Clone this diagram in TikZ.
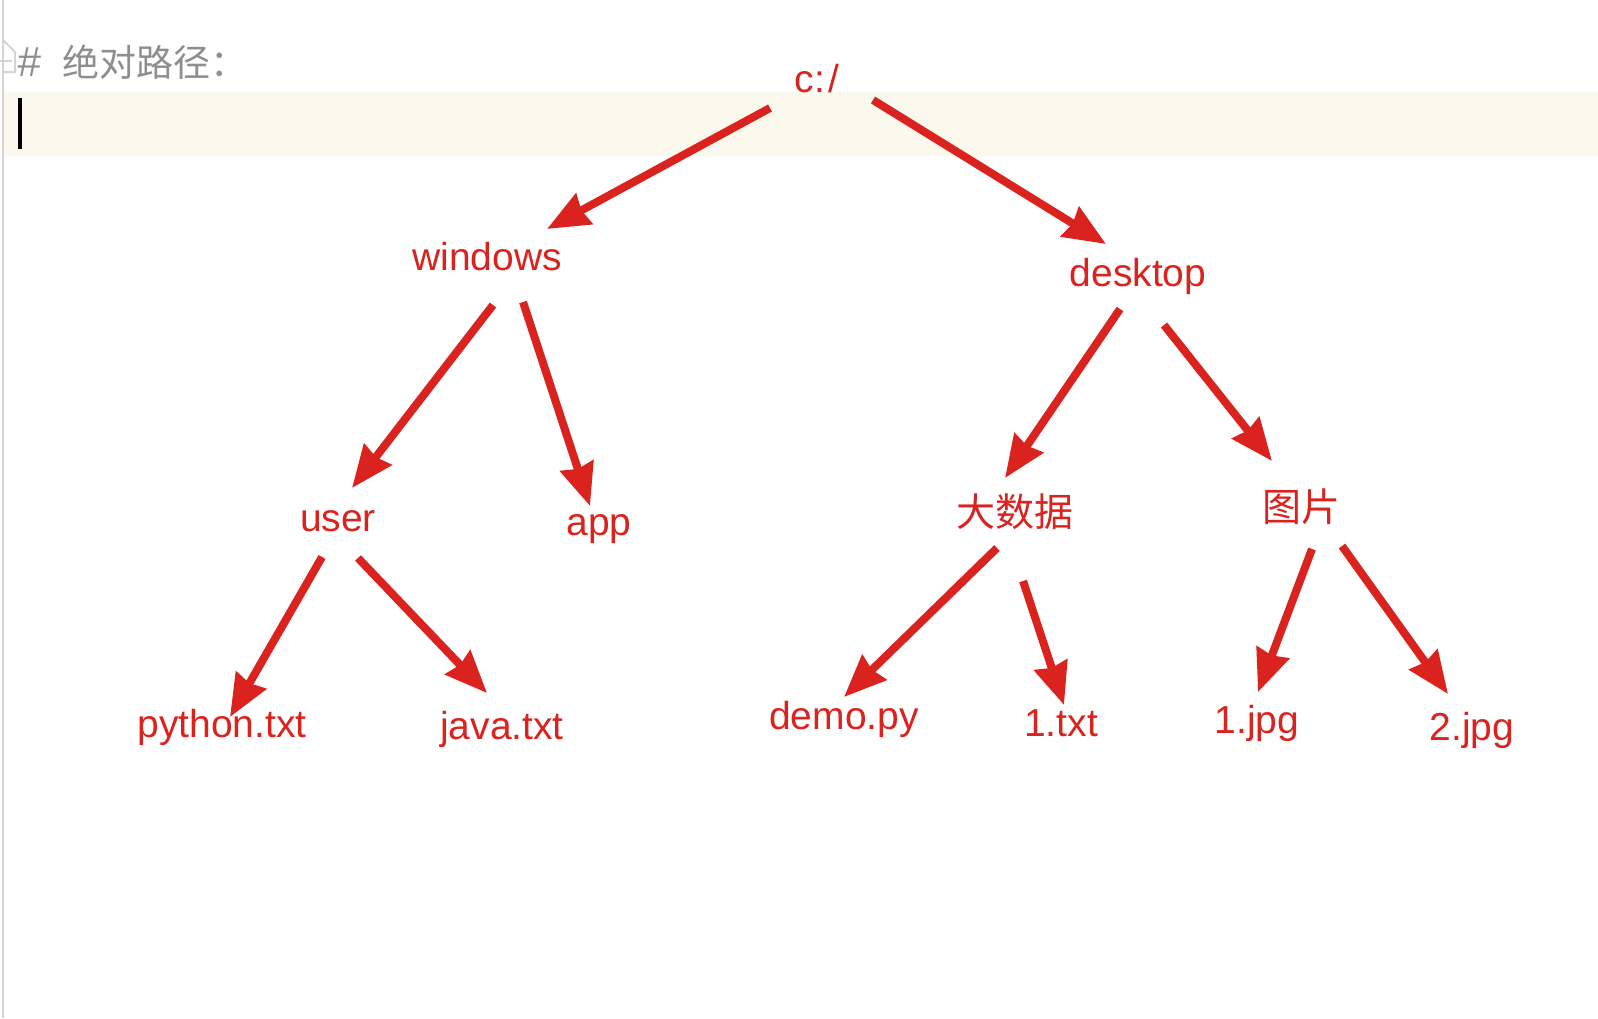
\documentclass[tikz,border=0pt]{standalone}
\usepackage{fontspec}
\setmainfont{Liberation Sans}
\newfontfamily\cjk{Noto Sans CJK SC}
\usetikzlibrary{arrows.meta}
\definecolor{arrred}{RGB}{218,35,30}
\definecolor{hdrgray}{RGB}{142,142,142}
\definecolor{bandc}{RGB}{251,249,237}
\definecolor{rulegray}{RGB}{212,212,212}
\tikzset{
  lbl/.style={text=arrred, font=\fontsize{19.5pt}{22pt}\selectfont, inner sep=0pt, anchor=base},
  cjklbl/.style={text=arrred, font=\fontsize{19.5pt}{22pt}\selectfont\cjk, inner sep=0pt, anchor=base},
  arr/.style={draw=arrred, line width=4pt, -{Stealth[length=21pt,width=17pt,inset=1.5pt]}},
}
\begin{document}
\begin{tikzpicture}[x=0.5pt,y=-0.5pt]
\useasboundingbox (0,0) rectangle (1598,1018);
\fill[white] (0,0) rectangle (1598,1018);
% editor chrome
\fill[bandc] (4,92) rectangle (1598,156);
\draw[rulegray, line width=1pt] (3,0) -- (3,40);
\draw[rulegray, line width=1pt] (3,40) -- (15,52) -- (15,72) -- (3,72) -- cycle;
\draw[rulegray, line width=1pt] (0,61) -- (12,61);
\draw[rulegray, line width=1pt] (3,72) -- (3,1018);
\fill[black] (18,98) rectangle (22,149);
\node[text=hdrgray, inner sep=0pt, anchor=base west] (hdr) at (17,76)
  {\fontsize{21pt}{22pt}\selectfont\itshape\#\hspace{11pt}\fontsize{18.5pt}{22pt}\selectfont\upshape\cjk 绝对路径：};
% labels
\node[lbl] (c) at (817,92) {c:\kern1.5pt/};
\node[lbl] (win) at (487,270) {windows};
\node[lbl] (desk) at (1138,286) {desktop};
\node[lbl] (user) at (338,531) {user};
\node[lbl] (app) at (599,535) {app};
\node[cjklbl] (dsj) at (1015,526) {大数据};
\node[cjklbl] (tp) at (1301,521) {图片};
\node[lbl] (py) at (222,737) {python.txt};
\node[lbl] (java) at (502,739) {java.txt};
\node[lbl] (demo) at (844,729) {demo.py};
\node[lbl] (txt1) at (1061,736) {1.txt};
\node[lbl] (jpg1) at (1257,733) {1.jpg};
\node[lbl] (jpg2) at (1472,740) {2.jpg};
% connector end points
\coordinate (c-win-s) at (770,108);   \coordinate (c-win-e) at (547,229);
\coordinate (c-desk-s) at (873,100);  \coordinate (c-desk-e) at (1106,244);
\coordinate (win-user-s) at (493,305); \coordinate (win-user-e) at (352,488);
\coordinate (win-app-s) at (523,302); \coordinate (win-app-e) at (590,506);
\coordinate (desk-dsj-s) at (1120,309); \coordinate (desk-dsj-e) at (1005,478);
\coordinate (desk-tp-s) at (1164,325); \coordinate (desk-tp-e) at (1272,461);
\coordinate (user-py-s) at (322,557); \coordinate (user-py-e) at (230,717);
\coordinate (user-java-s) at (358,558); \coordinate (user-java-e) at (487,693);
\coordinate (dsj-demo-s) at (997,548); \coordinate (dsj-demo-e) at (844,697);
\coordinate (dsj-txt-s) at (1023,581); \coordinate (dsj-txt-e) at (1064,705);
\coordinate (tp-jpg1-s) at (1312,549); \coordinate (tp-jpg1-e) at (1258,692);
\coordinate (tp-jpg2-s) at (1342,546); \coordinate (tp-jpg2-e) at (1448,694);
% connectors
\draw[arr] (c-win-s) -- (c-win-e);
\draw[arr] (c-desk-s) -- (c-desk-e);
\draw[arr] (win-user-s) -- (win-user-e);
\draw[arr] (win-app-s) -- (win-app-e);
\draw[arr] (desk-dsj-s) -- (desk-dsj-e);
\draw[arr] (desk-tp-s) -- (desk-tp-e);
\draw[arr] (user-py-s) -- (user-py-e);
\draw[arr] (user-java-s) -- (user-java-e);
\draw[arr] (dsj-demo-s) -- (dsj-demo-e);
\draw[arr] (dsj-txt-s) -- (dsj-txt-e);
\draw[arr] (tp-jpg1-s) -- (tp-jpg1-e);
\draw[arr] (tp-jpg2-s) -- (tp-jpg2-e);
\end{tikzpicture}
\end{document}
